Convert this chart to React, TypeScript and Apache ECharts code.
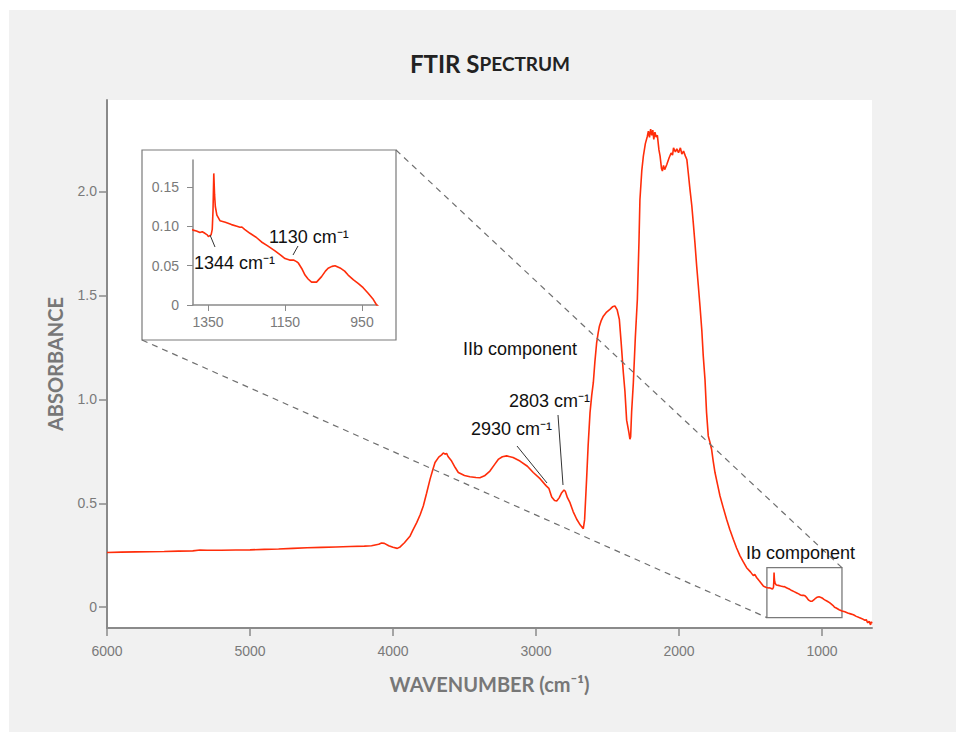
import { useEffect, useRef } from "react";
import * as echarts from "echarts";

// Spectrum (wavenumber in cm-1, absorbance)
const wavenumbers = [
  6000, 5900, 5800, 5700, 5600, 5500, 5400, 5350, 5300, 5200, 5100, 5000, 4900, 4800, 4700, 4600, 4500, 4400, 4300, 4200,
  4150, 4100, 4080, 4060, 4030, 4000, 3970, 3950, 3920, 3880, 3860, 3834, 3810, 3788, 3765, 3741, 3720, 3706, 3680, 3660,
  3648, 3636, 3625, 3615, 3590, 3565, 3543, 3500, 3462, 3420, 3392, 3360, 3322, 3290, 3264, 3235, 3205, 3160, 3112, 3060,
  3019, 2970, 2930, 2910, 2890, 2870, 2855, 2838, 2820, 2804, 2795, 2780, 2762, 2740, 2715, 2690, 2669, 2660, 2646, 2635,
  2622, 2610, 2599, 2588, 2576, 2565, 2557, 2543, 2529, 2506, 2483, 2465, 2448, 2432, 2417, 2405, 2389, 2378, 2366, 2350,
  2343, 2338, 2331, 2319, 2305, 2291, 2280, 2273, 2260, 2249, 2235, 2221, 2214, 2206, 2198, 2190, 2183, 2176, 2168, 2160,
  2151, 2140, 2132, 2122, 2116, 2108, 2100, 2085, 2070, 2055, 2045, 2038, 2025, 2015, 2003, 1990, 1980, 1968, 1955, 1945,
  1935, 1923, 1910, 1900, 1888, 1876, 1865, 1853, 1840, 1830, 1818, 1807, 1795, 1782, 1772, 1760, 1748, 1730, 1713, 1690,
  1667, 1645, 1620, 1597, 1573, 1550, 1527, 1500, 1480, 1470, 1457, 1440, 1425, 1410, 1400, 1389, 1380, 1371, 1365, 1358,
  1352, 1349, 1345, 1342, 1339, 1337, 1335, 1333, 1331, 1327, 1319, 1305, 1289, 1275, 1267, 1262, 1255, 1241, 1225, 1211,
  1195, 1176, 1163, 1150, 1138, 1128, 1120, 1115, 1105, 1098, 1090, 1081, 1068, 1055, 1045, 1038, 1028, 1020, 1007, 995,
  986, 972, 960, 947, 934, 922, 912, 900, 880, 860, 840, 820, 800, 780, 760, 740, 720, 700, 690, 680,
  670, 660, 655, 650,
];
const absorbance = [
  0.263, 0.265, 0.266, 0.267, 0.268, 0.27, 0.271, 0.275, 0.274, 0.274, 0.275, 0.276, 0.278, 0.28, 0.283, 0.286, 0.288, 0.29, 0.292, 0.294,
  0.296, 0.303, 0.309, 0.307, 0.296, 0.288, 0.283, 0.29, 0.31, 0.343, 0.372, 0.407, 0.445, 0.487, 0.548, 0.615, 0.665, 0.696, 0.722, 0.733,
  0.742, 0.736, 0.74, 0.725, 0.703, 0.672, 0.648, 0.634, 0.628, 0.624, 0.623, 0.632, 0.655, 0.686, 0.711, 0.724, 0.728, 0.72, 0.703, 0.678,
  0.648, 0.617, 0.585, 0.572, 0.53, 0.513, 0.511, 0.526, 0.551, 0.564, 0.558, 0.527, 0.503, 0.46, 0.423, 0.395, 0.378, 0.42, 0.615, 0.78,
  0.936, 1.02, 1.08, 1.18, 1.27, 1.32, 1.35, 1.38, 1.4, 1.42, 1.433, 1.445, 1.449, 1.43, 1.385, 1.28, 1.128, 1.04, 0.9, 0.84,
  0.808, 0.82, 0.94, 1.08, 1.3, 1.48, 1.75, 1.96, 2.1, 2.17, 2.23, 2.266, 2.29, 2.26, 2.3, 2.27, 2.295, 2.25, 2.285, 2.262,
  2.27, 2.2, 2.17, 2.11, 2.098, 2.125, 2.105, 2.13, 2.16, 2.185, 2.175, 2.21, 2.19, 2.205, 2.186, 2.21, 2.18, 2.194, 2.17, 2.154,
  2.09, 2.01, 1.93, 1.85, 1.75, 1.64, 1.55, 1.449, 1.33, 1.208, 1.096, 0.936, 0.824, 0.79, 0.76, 0.7, 0.648, 0.59, 0.535, 0.478,
  0.423, 0.375, 0.327, 0.285, 0.247, 0.218, 0.19, 0.17, 0.152, 0.158, 0.143, 0.128, 0.115, 0.102, 0.098, 0.095, 0.094, 0.092, 0.093, 0.091,
  0.089, 0.087, 0.088, 0.089, 0.096, 0.12, 0.167, 0.14, 0.125, 0.114, 0.107, 0.105, 0.102, 0.1, 0.0986, 0.099, 0.096, 0.091, 0.086, 0.08,
  0.075, 0.0686, 0.064, 0.059, 0.057, 0.057, 0.055, 0.053, 0.045, 0.038, 0.033, 0.029, 0.029, 0.036, 0.043, 0.0466, 0.049, 0.0499, 0.047, 0.043,
  0.038, 0.032, 0.0275, 0.022, 0.0148, 0.008, 0.0, -0.004, -0.012, -0.018, -0.022, -0.028, -0.032, -0.036, -0.044, -0.05, -0.055, -0.063, -0.06, -0.075,
  -0.068, -0.085, -0.07, -0.078,
];

const mainXTicks = [6000, 5000, 4000, 3000, 2000, 1000];
const mainYTicks = [0, 0.5, 1, 1.5, 2];
const insetXTicks = [1350, 1150, 950];
const insetYTicks = [0, 0.05, 0.1, 0.15];

// Zoomed region (Ib component) in data space
const zoomWnHigh = 1385;
const zoomWnLow = 860;
const zoomAbsHigh = 0.19;
const zoomAbsLow = -0.05;

const titleMain = "FTIR S";
const titleSmall = "PECTRUM";
const xAxisName = "WAVENUMBER (cm⁻¹)";
const yAxisName = "ABSORBANCE";
const labelIIb = "IIb component";
const labelIb = "Ib component";
const label2803 = "2803 cm⁻¹";
const label2930 = "2930 cm⁻¹";
const label1344 = "1344 cm⁻¹";
const label1130 = "1130 cm⁻¹";

const LINE = "#ff2d0a";
const AXIS = "#8a8a8a";
const TICKTXT = "#7a7a7a";
const FONT = "Liberation Sans, Arial, sans-serif";
const TITLEFONT = "Lato, sans-serif";

export default function App() {
  const ref = useRef<HTMLDivElement>(null);
  useEffect(() => {
    const chart = echarts.init(ref.current!, null, { renderer: "svg" });
    const data = wavenumbers.map((w, i) => [w, absorbance[i]]);
    const insetData = data.filter((d) => d[0] >= 900 && d[0] <= 1400);

    const axisCommon = {
      type: "value",
      splitLine: { show: false },
    };
    const mainLine = { show: true, onZero: false, lineStyle: { color: AXIS, width: 2 } };
    const insetLine = { show: true, onZero: false, lineStyle: { color: AXIS, width: 1.5 } };
    const intFmt = (v: number) => String(v);

    chart.setOption({
      animation: false,
      backgroundColor: "transparent",
      grid: [
        { left: 98, top: 90, width: 765, height: 528, show: true, backgroundColor: "#ffffff", borderWidth: 0, z: -20 },
        { left: 184, top: 150, width: 184, height: 145, show: false },
      ],
      xAxis: [
        {
          ...axisCommon,
          gridIndex: 0,
          inverse: true,
          min: 650,
          max: 6000,
          axisLine: mainLine,
          axisTick: { show: true, length: 8, lineStyle: { color: AXIS, width: 1.5 }, customValues: mainXTicks },
          axisLabel: { customValues: mainXTicks, color: TICKTXT, fontSize: 14, fontFamily: FONT, margin: 16, formatter: intFmt },
          name: xAxisName,
          nameLocation: "middle",
          nameGap: 46,
          nameTextStyle: { color: "#777", fontSize: 20, fontWeight: "bold", fontFamily: TITLEFONT },
        },
        {
          ...axisCommon,
          gridIndex: 1,
          inverse: true,
          min: 911,
          max: 1389,
          axisLine: insetLine,
          axisTick: { show: true, length: 6, lineStyle: { color: AXIS, width: 1 }, customValues: insetXTicks },
          axisLabel: { customValues: insetXTicks, color: TICKTXT, fontSize: 14, fontFamily: FONT, margin: 10, formatter: intFmt },
        },
      ],
      yAxis: [
        {
          ...axisCommon,
          gridIndex: 0,
          min: -0.1,
          max: 2.44,
          axisLine: mainLine,
          axisTick: { show: true, length: 8, lineStyle: { color: AXIS, width: 1.5 }, customValues: mainYTicks },
          axisLabel: {
            customValues: mainYTicks,
            color: TICKTXT,
            fontSize: 14,
            fontFamily: FONT,
            margin: 10,
            formatter: (v: number) => (v === 0 ? "0" : v.toFixed(1)),
          },
          name: yAxisName,
          nameLocation: "middle",
          nameGap: 42,
          nameTextStyle: { color: "#777", fontSize: 20, fontWeight: "bold", fontFamily: TITLEFONT },
        },
        {
          ...axisCommon,
          gridIndex: 1,
          min: 0,
          max: 0.184,
          axisLine: insetLine,
          axisTick: { show: true, length: 6, lineStyle: { color: AXIS, width: 1 }, customValues: insetYTicks },
          axisLabel: {
            customValues: insetYTicks,
            color: TICKTXT,
            fontSize: 14,
            fontFamily: FONT,
            margin: 14,
            formatter: (v: number) => (v === 0 ? "0" : v.toFixed(2)),
          },
        },
      ],
      series: [
        {
          type: "line",
          xAxisIndex: 0,
          yAxisIndex: 0,
          data,
          showSymbol: false,
          lineStyle: { color: LINE, width: 1.6 },
          z: 3,
          markArea: {
            silent: true,
            itemStyle: { color: "rgba(0,0,0,0)", borderColor: "#7a7a7a", borderWidth: 1.3 },
            label: { show: false },
            data: [[{ coord: [zoomWnHigh, zoomAbsHigh] }, { coord: [zoomWnLow, zoomAbsLow] }]],
          },
        },
        {
          type: "line",
          xAxisIndex: 1,
          yAxisIndex: 1,
          data: insetData,
          showSymbol: false,
          clip: true,
          lineStyle: { color: LINE, width: 1.6 },
          z: 3,
        },
      ],
    });

    const tr = chart.convertToPixel({ gridIndex: 0 }, [zoomWnLow, zoomAbsHigh]) as number[];
    const bl = chart.convertToPixel({ gridIndex: 0 }, [zoomWnHigh, zoomAbsLow]) as number[];

    const inset = { x: 133, y: 140, w: 254, h: 190 };
    const annoStyle = { fill: "#111", fontSize: 18, fontFamily: FONT };
    const leader = { stroke: "#333", lineWidth: 1 };

    chart.setOption({
      graphic: [
        {
          type: "rect",
          z: -10,
          shape: { x: inset.x, y: inset.y, width: inset.w, height: inset.h },
          style: { fill: "#ffffff", stroke: "#7a7a7a", lineWidth: 1.2 },
        },
        {
          type: "line",
          z: 5,
          shape: { x1: inset.x + inset.w, y1: inset.y, x2: tr[0], y2: tr[1] },
          style: { stroke: "#6f6f6f", lineWidth: 1.2, lineDash: [6, 5] },
        },
        {
          type: "line",
          z: 5,
          shape: { x1: inset.x, y1: inset.y + inset.h, x2: bl[0], y2: bl[1] },
          style: { stroke: "#6f6f6f", lineWidth: 1.2, lineDash: [6, 5] },
        },
        {
          type: "text",
          x: 481,
          y: 53,
          style: {
            text: `{a|${titleMain}}{b|${titleSmall}}`,
            textAlign: "center",
            textVerticalAlign: "middle",
            rich: {
              a: { fontSize: 24, fontWeight: "bold", fontFamily: TITLEFONT, fill: "#222" },
              b: { fontSize: 19, fontWeight: "bold", fontFamily: TITLEFONT, fill: "#222" },
            },
          },
        },
        { type: "text", x: 511, y: 339, z: 6, style: { ...annoStyle, text: labelIIb, textAlign: "center", textVerticalAlign: "middle" } },
        { type: "text", x: 500, y: 391, z: 6, style: { ...annoStyle, text: label2803, textAlign: "left", textVerticalAlign: "middle" } },
        { type: "text", x: 462, y: 419, z: 6, style: { ...annoStyle, text: label2930, textAlign: "left", textVerticalAlign: "middle" } },
        { type: "text", x: 737, y: 543, z: 6, style: { ...annoStyle, text: labelIb, textAlign: "left", textVerticalAlign: "middle" } },
        { type: "text", x: 185, y: 253, z: 6, style: { ...annoStyle, text: label1344, textAlign: "left", textVerticalAlign: "middle" } },
        { type: "text", x: 260, y: 227, z: 6, style: { ...annoStyle, text: label1130, textAlign: "left", textVerticalAlign: "middle" } },
        { type: "line", z: 6, shape: { x1: 549, y1: 405, x2: 554, y2: 475 }, style: leader },
        { type: "line", z: 6, shape: { x1: 508, y1: 436, x2: 538, y2: 473 }, style: leader },
        { type: "line", z: 6, shape: { x1: 201, y1: 225, x2: 206, y2: 237 }, style: leader },
        { type: "line", z: 6, shape: { x1: 289, y1: 236, x2: 284, y2: 245 }, style: leader },
      ],
    });

    return () => chart.dispose();
  }, []);

  return (
    <div style={{ position: "fixed", left: 0, top: 0, width: 956, height: 732, background: "#ffffff" }}>
      <div
        ref={ref}
        style={{ position: "absolute", left: 9, top: 10, width: 947, height: 722, background: "#f1f1f1" }}
      />
    </div>
  );
}
